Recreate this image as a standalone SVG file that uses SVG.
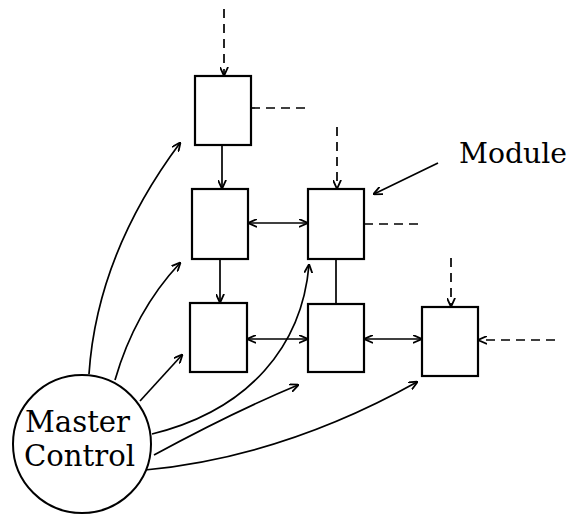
<svg xmlns="http://www.w3.org/2000/svg" width="569" height="514" viewBox="0 0 569 514">
<defs>
<marker id="ah" viewBox="0 0 10 10" refX="9" refY="5" markerWidth="9" markerHeight="9" markerUnits="userSpaceOnUse" orient="auto-start-reverse">
<path d="M0,0.5 L10,5 L0,9.5" fill="none" stroke="#000" stroke-width="2"/>
</marker>
</defs>
<style>
.box{fill:#fff;stroke:#000;stroke-width:2.2}
.ln{fill:none;stroke:#000;stroke-width:1.7}
.ds{fill:none;stroke:#000;stroke-width:1.7;stroke-dasharray:9 6}
.lbl{font-family:"DejaVu Serif","Liberation Serif",serif;fill:#000}
</style>
<rect width="569" height="514" fill="#fff"/>
<g id="connectors">
<path class="ds" d="M224,9 V75" marker-end="url(#ah)"/>
<path class="ds" d="M251,108 H311"/>
<path class="ln" d="M222,145 V188" marker-end="url(#ah)"/>
<path class="ds" d="M337,127 V188" marker-end="url(#ah)"/>
<path class="ds" d="M364,224 H423"/>
<path class="ln" d="M249,223 H307" marker-start="url(#ah)" marker-end="url(#ah)"/>
<path class="ln" d="M220,259 V302" marker-end="url(#ah)"/>
<path class="ln" d="M336,259 V304"/>
<path class="ln" d="M248,339 H307" marker-start="url(#ah)" marker-end="url(#ah)"/>
<path class="ln" d="M365,339 H421" marker-start="url(#ah)" marker-end="url(#ah)"/>
<path class="ds" d="M451,258 V306" marker-end="url(#ah)"/>
<path class="ds" d="M555,340 H479" marker-end="url(#ah)"/>
<path class="ln" d="M438,163 L374,194" marker-end="url(#ah)"/>
<path class="ln" d="M89,374 C95,285 130,210 180,143" marker-end="url(#ah)"/>
<path class="ln" d="M115,380 C128,335 150,295 180,263" marker-end="url(#ah)"/>
<path class="ln" d="M140,401 L182,355" marker-end="url(#ah)"/>
<path class="ln" d="M152,434 C250,410 302,345 309,265" marker-end="url(#ah)"/>
<path class="ln" d="M154,455 C200,430 250,405 298,385" marker-end="url(#ah)"/>
<path class="ln" d="M145,470 C250,460 340,425 417,382" marker-end="url(#ah)"/>
</g>
<g id="moduleA"><rect class="box" x="195" y="76" width="56" height="69"/></g>
<g id="moduleB"><rect class="box" x="192" y="189" width="56" height="70"/></g>
<g id="moduleC"><rect class="box" x="308" y="189" width="56" height="70"/></g>
<g id="moduleD"><rect class="box" x="190" y="303" width="57" height="69"/></g>
<g id="moduleE"><rect class="box" x="308" y="304" width="56" height="68"/></g>
<g id="moduleF"><rect class="box" x="422" y="307" width="56" height="69"/></g>
<g id="master">
<circle cx="82" cy="444" r="69" fill="#fff" stroke="#000" stroke-width="2"/>
<text class="lbl" x="25" y="432" font-size="30" textLength="105" lengthAdjust="spacingAndGlyphs">Master</text>
<text class="lbl" x="24" y="466" font-size="30" textLength="111" lengthAdjust="spacingAndGlyphs">Control</text>
</g>
<g id="label-module">
<text class="lbl" x="459" y="163" font-size="28" textLength="108" lengthAdjust="spacingAndGlyphs">Module</text>
</g>
</svg>
